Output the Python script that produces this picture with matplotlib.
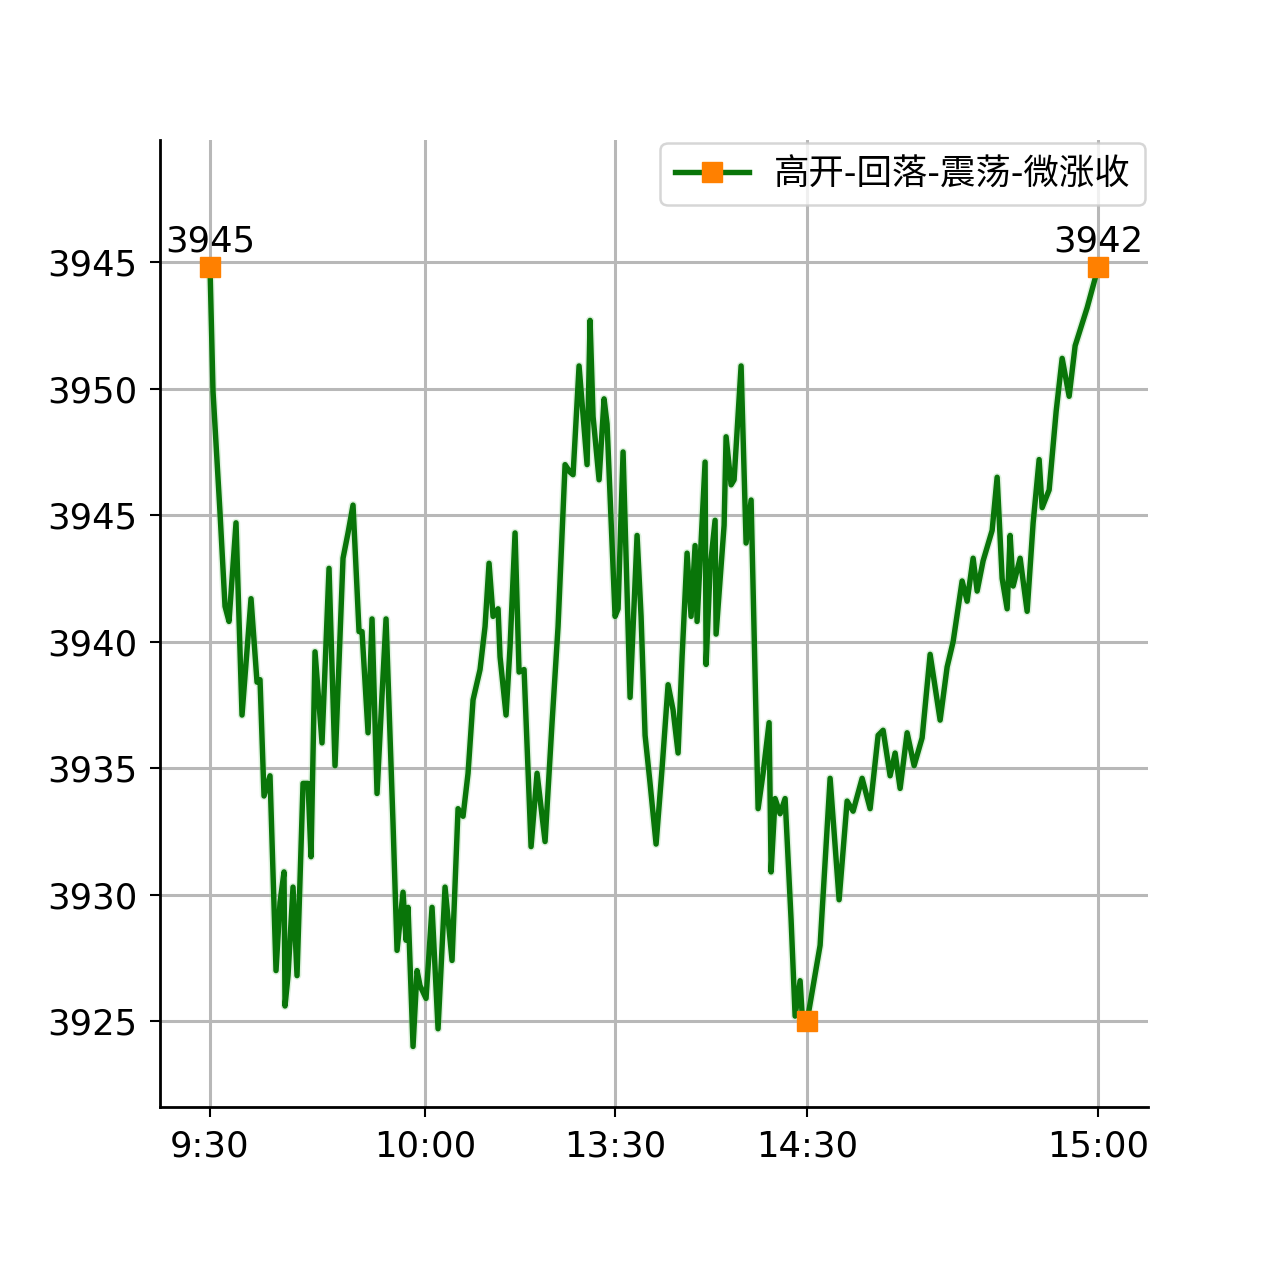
import numpy as np
import matplotlib
matplotlib.use('Agg')
import matplotlib.pyplot as plt

plt.rcParams['font.family'] = ['DejaVu Sans', 'Noto Sans CJK SC']

# time steps (9:30 = 0 ... 15:00 = 888) and index level
t = [0, 3, 10, 15, 19, 26, 32, 41, 47, 50, 54, 60, 66, 70, 74, 75, 78, 83, 87, 93,
     98, 101, 105, 112, 119, 125, 133, 138, 143, 149, 152, 158, 162, 167, 172, 176, 183, 187, 193, 196,
     198, 203, 207, 210, 216, 222, 228, 235, 242, 248, 253, 258, 263, 270, 275, 279, 283, 288, 290, 296,
     300, 305, 309, 314, 321, 327, 335, 342, 348, 355, 360, 363, 369, 377, 380, 383, 389, 394, 397, 405,
     408, 413, 420, 427, 431, 435, 440, 446, 452, 458, 463, 468, 472, 477, 481, 485, 487, 495, 496, 500,
     505, 506, 514, 516, 521, 524, 531, 536, 541, 548, 553, 559, 561, 565, 570, 575, 581, 585, 590, 592,
     597, 610, 620, 629, 637, 643, 652, 660, 668, 673, 680, 685, 690, 697, 704, 712, 720, 730, 737, 743,
     752, 757, 763, 767, 773, 782, 787, 792, 797, 800, 803, 810, 817, 823, 829, 832, 839, 846, 852, 859,
     865, 877, 888]
price = [3954.8, 3949.9, 3945.1, 3941.4, 3940.8, 3944.7, 3937.1, 3941.7, 3938.4, 3938.5,
         3933.9, 3934.7, 3927.0, 3929.7, 3930.9, 3925.6, 3926.8, 3930.3, 3926.8, 3934.4,
         3934.4, 3931.5, 3939.6, 3936.0, 3942.9, 3935.1, 3943.3, 3944.3, 3945.4, 3940.4,
         3940.4, 3936.4, 3940.9, 3934.0, 3937.9, 3940.9, 3932.8, 3927.8, 3930.1, 3928.2,
         3929.5, 3924.0, 3927.0, 3926.4, 3925.9, 3929.5, 3924.7, 3930.3, 3927.4, 3933.4,
         3933.1, 3934.8, 3937.7, 3938.9, 3940.6, 3943.1, 3941.0, 3941.3, 3939.4, 3937.1,
         3939.8, 3944.3, 3938.8, 3938.9, 3931.9, 3934.8, 3932.1, 3936.8, 3940.6, 3947.0,
         3946.7, 3946.6, 3950.9, 3947.0, 3952.7, 3948.9, 3946.4, 3949.6, 3948.6, 3941.0,
         3941.3, 3947.5, 3937.8, 3944.2, 3941.0, 3936.3, 3934.4, 3932.0, 3935.0, 3938.3,
         3937.3, 3935.6, 3939.4, 3943.5, 3941.0, 3943.8, 3940.8, 3947.1, 3939.1, 3942.9,
         3944.8, 3940.3, 3944.6, 3948.1, 3946.2, 3946.4, 3950.9, 3943.9, 3945.6, 3933.4,
         3934.8, 3936.8, 3930.9, 3933.8, 3933.2, 3933.8, 3929.0, 3925.2, 3926.6, 3925.3,
         3925.0, 3928.0, 3934.6, 3929.8, 3933.7, 3933.3, 3934.6, 3933.4, 3936.3, 3936.5,
         3934.7, 3935.6, 3934.2, 3936.4, 3935.1, 3936.2, 3939.5, 3936.9, 3939.0, 3940.0,
         3942.4, 3941.6, 3943.3, 3942.0, 3943.2, 3944.4, 3946.5, 3942.5, 3941.3, 3944.2,
         3942.2, 3943.3, 3941.2, 3944.7, 3947.2, 3945.3, 3946.0, 3949.1, 3951.2, 3949.7,
         3951.7, 3953.2, 3954.8]

key_idx = [0, 120, len(t) - 1]          # open, low, close
key_text = ['3945', '', '3942']

xtick_pos = [0, 215, 405, 597, 888]
xtick_labels = ['9:30', '10:00', '13:30', '14:30', '15:00']
ytick_pos = [3955, 3950, 3945, 3940, 3935, 3930, 3925]
ytick_labels = ['3945', '3950', '3945', '3940', '3935', '3930', '3925']

label = '高开-回落-震荡-微涨收'

fig = plt.figure(figsize=(12.8, 12.8), dpi=100)
ax = fig.add_axes([0.125, 0.135, 0.772, 0.756])

ax.grid(True, color='#b8b8b8', linewidth=2.2, zorder=0)
ax.plot(t, price, color='#8fd18f', linewidth=6, alpha=0.3, zorder=2)
ax.plot(t, price, color='#097509', linewidth=3.9, zorder=3)

kx = [t[i] for i in key_idx]
ky = [price[i] for i in key_idx]
ax.plot(kx, ky, linestyle='none', marker='s', markersize=14,
        color='#ff8000', zorder=4)
ax.plot([], [], color='#097509', linewidth=3.9, marker='s', markersize=14,
        markerfacecolor='#ff8000', markeredgecolor='#ff8000', label=label)

for x, y, s in zip(kx, ky, key_text):
    if s:
        ax.annotate(s, (x, y), xytext=(0, 6), textcoords='offset points',
                    ha='center', va='bottom', fontsize=25.5)

ax.set_xlim(-50, 938)
ax.set_ylim(3921.6, 3959.85)
ax.set_xticks(xtick_pos)
ax.set_xticklabels(xtick_labels)
ax.set_yticks(ytick_pos)
ax.set_yticklabels(ytick_labels)
ax.tick_params(labelsize=25.5, length=7, width=1.5, pad=9)

for side in ['top', 'right']:
    ax.spines[side].set_visible(False)
for side in ['left', 'bottom']:
    ax.spines[side].set_linewidth(2)

leg = ax.legend(loc='upper right', fontsize=25.5, handlelength=2.1,
                handletextpad=0.7, borderaxespad=0.1, frameon=True, fancybox=True)
leg.get_frame().set_edgecolor('#cccccc')
leg.get_frame().set_linewidth(1.8)

fig.savefig('out.png', dpi=100, facecolor='white')
